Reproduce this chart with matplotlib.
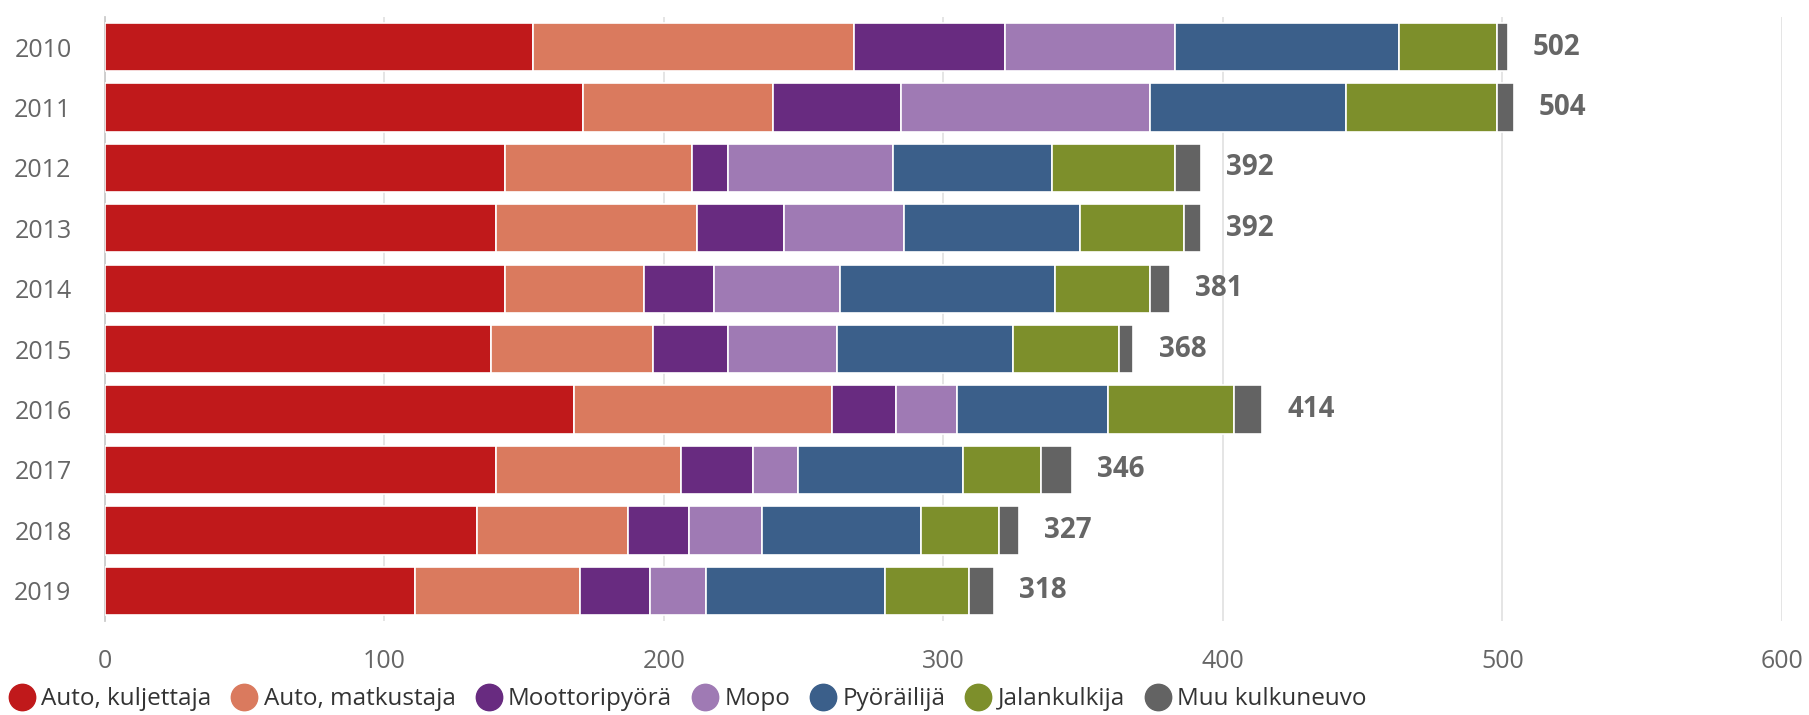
import matplotlib
matplotlib.use("Agg")
import numpy as np
import matplotlib.pyplot as plt
from matplotlib.lines import Line2D

plt.rcParams["font.family"] = ["Open Sans", "DejaVu Sans"]

years = ["2010", "2011", "2012", "2013", "2014", "2015", "2016", "2017", "2018", "2019"]
categories = ["Auto, kuljettaja", "Auto, matkustaja", "Moottoripyörä", "Mopo",
              "Pyöräilijä", "Jalankulkija", "Muu kulkuneuvo"]

auto_kuljettaja = [153, 171, 143, 140, 143, 138, 168, 140, 133, 111]
auto_matkustaja = [115, 68, 67, 72, 50, 58, 92, 66, 54, 59]
moottoripyora = [54, 46, 13, 31, 25, 27, 23, 26, 22, 25]
mopo = [61, 89, 59, 43, 45, 39, 22, 16, 26, 20]
pyorailija = [80, 70, 57, 63, 77, 63, 54, 59, 57, 64]
jalankulkija = [35, 54, 44, 37, 34, 38, 45, 28, 28, 30]
muu = [4, 6, 9, 6, 7, 5, 10, 11, 7, 9]

series = [auto_kuljettaja, auto_matkustaja, moottoripyora, mopo, pyorailija, jalankulkija, muu]
colors = ["#C0191B", "#DA7A5E", "#682B80", "#9F7AB4", "#3B5F8A", "#7D8F2B", "#636363"]

fig = plt.figure(figsize=(18.09, 7.15), dpi=100)
ax = fig.add_axes([0.058, 0.1315, 0.927, 0.845])

y = np.arange(len(years))
left = np.zeros(len(years))
for vals, col, name in zip(series, colors, categories):
    vals = np.array(vals)
    ax.barh(y, vals, left=left, height=0.8, color=col, edgecolor="white",
            linewidth=1.2, label=name, zorder=3)
    left += vals

for yi, tot in zip(y, left):
    ax.text(tot + 9, yi, f"{int(tot)}", va="center", ha="left", fontsize=20,
            fontweight="bold", color="#666666")

ax.set_xlim(0, 600)
ax.set_ylim(len(years) - 0.5, -0.5)
ax.set_yticks(y)
ax.set_yticklabels(years)
ax.set_xticks(np.arange(0, 601, 100))
ax.tick_params(axis="both", length=0, labelsize=18, labelcolor="#666666")
ax.tick_params(axis="x", pad=20)
ax.tick_params(axis="y", pad=24)
ax.grid(axis="x", color="#e3e3e3", linewidth=1.3, zorder=0)
for s in ["top", "right", "bottom"]:
    ax.spines[s].set_visible(False)
ax.spines["left"].set_color("#cccccc")
ax.spines["left"].set_linewidth(1.3)

handles = [Line2D([0], [0], marker="o", linestyle="", markersize=19,
                  markerfacecolor=c, markeredgecolor=c) for c in colors]
fig.legend(handles, categories, loc="center left", bbox_to_anchor=(0.0, 0.022),
           ncol=7, frameon=False, fontsize=17.5, handlelength=1.0,
           handletextpad=0.3, columnspacing=0.85, borderaxespad=0,
           labelcolor="#333333")

fig.savefig("out.png", dpi=100)
